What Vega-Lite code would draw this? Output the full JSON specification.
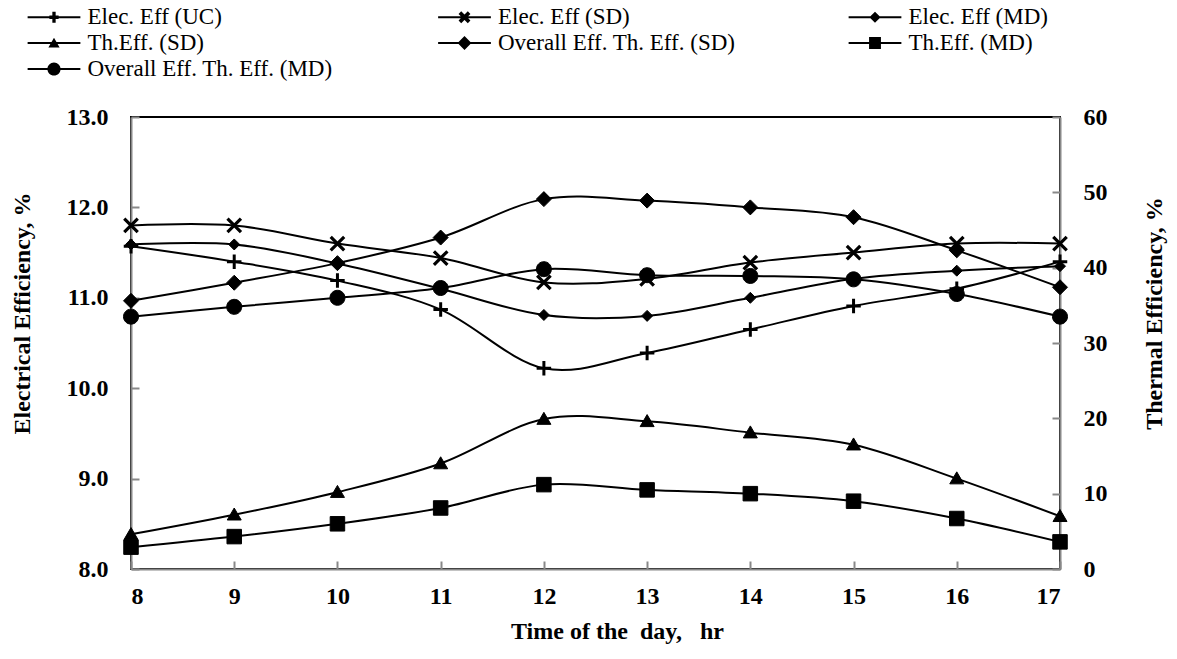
{
  "$schema": "https://vega.github.io/schema/vega-lite/v6.json",
  "width": 929,
  "height": 452,
  "autosize": {"type": "none"},
  "padding": {"left": 131, "top": 117, "right": 117, "bottom": 90},
  "background": "white",
  "config": {
    "font": "Liberation Serif",
    "view": {"stroke": "black", "strokeWidth": 2},
    "legend": {"labelFont": "Liberation Serif", "labelFontSize": 23, "labelColor": "black"},
    "axis": {
      "grid": false,
      "labelFont": "Liberation Serif",
      "labelFontWeight": "bold",
      "labelFontSize": 24,
      "labelColor": "black",
      "titleFont": "Liberation Serif",
      "titleFontWeight": "bold",
      "titleFontSize": 24,
      "titleColor": "black",
      "domainColor": "#888888",
      "domainWidth": 2,
      "tickColor": "#888888",
      "tickWidth": 2,
      "tickSize": -8
    }
  },
  "data": {"values": [
    {"h": 8, "s": "Elec. Eff (UC)", "ax": "L", "v": 11.57},
    {"h": 9, "s": "Elec. Eff (UC)", "ax": "L", "v": 11.40},
    {"h": 10, "s": "Elec. Eff (UC)", "ax": "L", "v": 11.19},
    {"h": 11, "s": "Elec. Eff (UC)", "ax": "L", "v": 10.87},
    {"h": 12, "s": "Elec. Eff (UC)", "ax": "L", "v": 10.22},
    {"h": 13, "s": "Elec. Eff (UC)", "ax": "L", "v": 10.39},
    {"h": 14, "s": "Elec. Eff (UC)", "ax": "L", "v": 10.65},
    {"h": 15, "s": "Elec. Eff (UC)", "ax": "L", "v": 10.91},
    {"h": 16, "s": "Elec. Eff (UC)", "ax": "L", "v": 11.10},
    {"h": 17, "s": "Elec. Eff (UC)", "ax": "L", "v": 11.40},
    {"h": 8, "s": "Elec. Eff (SD)", "ax": "L", "v": 11.80},
    {"h": 9, "s": "Elec. Eff (SD)", "ax": "L", "v": 11.80},
    {"h": 10, "s": "Elec. Eff (SD)", "ax": "L", "v": 11.60},
    {"h": 11, "s": "Elec. Eff (SD)", "ax": "L", "v": 11.44},
    {"h": 12, "s": "Elec. Eff (SD)", "ax": "L", "v": 11.17},
    {"h": 13, "s": "Elec. Eff (SD)", "ax": "L", "v": 11.21},
    {"h": 14, "s": "Elec. Eff (SD)", "ax": "L", "v": 11.39},
    {"h": 15, "s": "Elec. Eff (SD)", "ax": "L", "v": 11.50},
    {"h": 16, "s": "Elec. Eff (SD)", "ax": "L", "v": 11.60},
    {"h": 17, "s": "Elec. Eff (SD)", "ax": "L", "v": 11.60},
    {"h": 8, "s": "Elec. Eff (MD)", "ax": "L", "v": 11.59},
    {"h": 9, "s": "Elec. Eff (MD)", "ax": "L", "v": 11.59},
    {"h": 10, "s": "Elec. Eff (MD)", "ax": "L", "v": 11.38},
    {"h": 11, "s": "Elec. Eff (MD)", "ax": "L", "v": 11.10},
    {"h": 12, "s": "Elec. Eff (MD)", "ax": "L", "v": 10.81},
    {"h": 13, "s": "Elec. Eff (MD)", "ax": "L", "v": 10.80},
    {"h": 14, "s": "Elec. Eff (MD)", "ax": "L", "v": 11.00},
    {"h": 15, "s": "Elec. Eff (MD)", "ax": "L", "v": 11.21},
    {"h": 16, "s": "Elec. Eff (MD)", "ax": "L", "v": 11.30},
    {"h": 17, "s": "Elec. Eff (MD)", "ax": "L", "v": 11.35},
    {"h": 8, "s": "Th.Eff. (SD)", "ax": "R", "v": 4.6},
    {"h": 9, "s": "Th.Eff. (SD)", "ax": "R", "v": 7.2},
    {"h": 10, "s": "Th.Eff. (SD)", "ax": "R", "v": 10.2},
    {"h": 11, "s": "Th.Eff. (SD)", "ax": "R", "v": 14.0},
    {"h": 12, "s": "Th.Eff. (SD)", "ax": "R", "v": 19.9},
    {"h": 13, "s": "Th.Eff. (SD)", "ax": "R", "v": 19.6},
    {"h": 14, "s": "Th.Eff. (SD)", "ax": "R", "v": 18.1},
    {"h": 15, "s": "Th.Eff. (SD)", "ax": "R", "v": 16.5},
    {"h": 16, "s": "Th.Eff. (SD)", "ax": "R", "v": 12.0},
    {"h": 17, "s": "Th.Eff. (SD)", "ax": "R", "v": 7.0},
    {"h": 8, "s": "Overall Eff. Th. Eff. (SD)", "ax": "R", "v": 35.6},
    {"h": 9, "s": "Overall Eff. Th. Eff. (SD)", "ax": "R", "v": 38.0},
    {"h": 10, "s": "Overall Eff. Th. Eff. (SD)", "ax": "R", "v": 40.6},
    {"h": 11, "s": "Overall Eff. Th. Eff. (SD)", "ax": "R", "v": 44.0},
    {"h": 12, "s": "Overall Eff. Th. Eff. (SD)", "ax": "R", "v": 49.1},
    {"h": 13, "s": "Overall Eff. Th. Eff. (SD)", "ax": "R", "v": 48.9},
    {"h": 14, "s": "Overall Eff. Th. Eff. (SD)", "ax": "R", "v": 48.0},
    {"h": 15, "s": "Overall Eff. Th. Eff. (SD)", "ax": "R", "v": 46.7},
    {"h": 16, "s": "Overall Eff. Th. Eff. (SD)", "ax": "R", "v": 42.3},
    {"h": 17, "s": "Overall Eff. Th. Eff. (SD)", "ax": "R", "v": 37.4},
    {"h": 8, "s": "Th.Eff. (MD)", "ax": "R", "v": 2.9},
    {"h": 9, "s": "Th.Eff. (MD)", "ax": "R", "v": 4.3},
    {"h": 10, "s": "Th.Eff. (MD)", "ax": "R", "v": 6.0},
    {"h": 11, "s": "Th.Eff. (MD)", "ax": "R", "v": 8.1},
    {"h": 12, "s": "Th.Eff. (MD)", "ax": "R", "v": 11.2},
    {"h": 13, "s": "Th.Eff. (MD)", "ax": "R", "v": 10.5},
    {"h": 14, "s": "Th.Eff. (MD)", "ax": "R", "v": 10.0},
    {"h": 15, "s": "Th.Eff. (MD)", "ax": "R", "v": 9.0},
    {"h": 16, "s": "Th.Eff. (MD)", "ax": "R", "v": 6.7},
    {"h": 17, "s": "Th.Eff. (MD)", "ax": "R", "v": 3.6},
    {"h": 8, "s": "Overall Eff. Th. Eff. (MD)", "ax": "R", "v": 33.5},
    {"h": 9, "s": "Overall Eff. Th. Eff. (MD)", "ax": "R", "v": 34.8},
    {"h": 10, "s": "Overall Eff. Th. Eff. (MD)", "ax": "R", "v": 36.0},
    {"h": 11, "s": "Overall Eff. Th. Eff. (MD)", "ax": "R", "v": 37.3},
    {"h": 12, "s": "Overall Eff. Th. Eff. (MD)", "ax": "R", "v": 39.8},
    {"h": 13, "s": "Overall Eff. Th. Eff. (MD)", "ax": "R", "v": 39.0},
    {"h": 14, "s": "Overall Eff. Th. Eff. (MD)", "ax": "R", "v": 38.9},
    {"h": 15, "s": "Overall Eff. Th. Eff. (MD)", "ax": "R", "v": 38.45},
    {"h": 16, "s": "Overall Eff. Th. Eff. (MD)", "ax": "R", "v": 36.5},
    {"h": 17, "s": "Overall Eff. Th. Eff. (MD)", "ax": "R", "v": 33.5}
  ]},
  "encoding": {
    "x": {
      "field": "h", "type": "quantitative",
      "scale": {"domain": [8, 17], "nice": false, "zero": false},
      "axis": {
        "values": [8, 9, 10, 11, 12, 13, 14, 15, 16, 17],
        "labelPadding": 23,
        "title": "Time of the\u00a0 day,\u00a0\u00a0 hr",
        "titleX": 486,
        "titleY": 69,
        "titleBaseline": "alphabetic",
        "titleAlign": "center",
        "titleAnchor": null
      }
    }
  },
  "layer": [
    {
      "transform": [{"filter": {"field": "ax", "equal": "L"}}],
      "encoding": {
        "y": {
          "field": "v", "type": "quantitative",
          "scale": {"domain": [8, 13], "nice": false, "zero": false},
          "axis": {
            "orient": "left",
            "values": [8, 9, 10, 11, 12, 13],
            "format": ".1f",
            "labelPadding": 31,
            "title": "Electrical Efficiency, %",
            "titleAngle": 270,
            "titleX": -109,
            "titleY": 196,
            "titleAlign": "center",
            "titleBaseline": "middle",
            "titleAnchor": null
          }
        }
      },
      "layer": [
        {"mark": {"type": "line", "interpolate": "cardinal", "color": "black", "strokeWidth": 2}, "encoding": {"detail": {"field": "s", "type": "nominal"}}},
        {"transform": [{"filter": {"field": "s", "equal": "Elec. Eff (MD)"}}], "mark": {"type": "point", "shape": "M0,-1.1L1.1,0L0,1.1L-1.1,0Z", "size": 100, "filled": true, "fill": "black", "stroke": "black", "strokeWidth": 1, "opacity": 1}, "encoding": {}},
        {"transform": [{"filter": {"field": "s", "equal": "Elec. Eff (UC)"}}], "mark": {"type": "point", "shape": "M0,-1.45V1.45M-1.45,0H1.45", "size": 100, "filled": true, "fill": "black", "stroke": "black", "strokeWidth": 3, "opacity": 1}, "encoding": {}},
        {"transform": [{"filter": {"field": "s", "equal": "Elec. Eff (SD)"}}], "mark": {"type": "point", "shape": "M-1.35,-1.35L1.35,1.35M-1.35,1.35L1.35,-1.35", "size": 100, "filled": true, "fill": "black", "stroke": "black", "strokeWidth": 3.2, "opacity": 1}, "encoding": {}}
      ]
    },
    {
      "transform": [{"filter": {"field": "ax", "equal": "R"}}],
      "encoding": {
        "y": {
          "field": "v", "type": "quantitative",
          "scale": {"domain": [0, 60], "nice": false, "zero": false},
          "axis": {
            "orient": "right",
            "values": [0, 10, 20, 30, 40, 50, 60],
            "labelPadding": 31,
            "title": "Thermal Efficiency, %",
            "titleAngle": 270,
            "titleX": 94,
            "titleY": 196,
            "titleAlign": "center",
            "titleBaseline": "middle",
            "titleAnchor": null
          }
        }
      },
      "layer": [
        {"mark": {"type": "line", "interpolate": "cardinal", "color": "black", "strokeWidth": 2}, "encoding": {"detail": {"field": "s", "type": "nominal"}}},
        {"transform": [{"filter": {"field": "s", "equal": "Th.Eff. (SD)"}}], "mark": {"type": "point", "shape": "M0,-1.35L1.4,1.05L-1.4,1.05Z", "size": 100, "filled": true, "fill": "black", "stroke": "black", "strokeWidth": 1, "opacity": 1}, "encoding": {}},
        {"transform": [{"filter": {"field": "s", "equal": "Overall Eff. Th. Eff. (SD)"}}], "mark": {"type": "point", "shape": "M0,-1.5L1.5,0L0,1.5L-1.5,0Z", "size": 100, "filled": true, "fill": "black", "stroke": "black", "strokeWidth": 1, "opacity": 1}, "encoding": {}},
        {"transform": [{"filter": {"field": "s", "equal": "Th.Eff. (MD)"}}], "mark": {"type": "point", "shape": "M-1.45,-1.45H1.45V1.45H-1.45Z", "size": 100, "filled": true, "fill": "black", "stroke": "black", "strokeWidth": 1, "opacity": 1}, "encoding": {}},
        {"transform": [{"filter": {"field": "s", "equal": "Overall Eff. Th. Eff. (MD)"}}], "mark": {"type": "point", "shape": "M1.5,0A1.5,1.5,0,1,1,-1.5,0A1.5,1.5,0,1,1,1.5,0Z", "size": 100, "filled": true, "fill": "black", "stroke": "black", "strokeWidth": 1, "opacity": 1}, "encoding": {}}
      ]
    },
    {
      "mark": {"type": "point", "filled": true, "fill": "black", "stroke": "black", "strokeWidth": 2, "opacity": 0, "size": 174},
      "encoding": {
        "y": {"field": "v", "type": "quantitative", "axis": null},
        "shape": {
          "field": "s", "type": "nominal",
          "scale": {
            "domain": ["Elec. Eff (UC)", "Elec. Eff (SD)", "Elec. Eff (MD)", "Th.Eff. (SD)", "Overall Eff. Th. Eff. (SD)", "Th.Eff. (MD)", "Overall Eff. Th. Eff. (MD)"],
            "range": [
              "M-4,-0.15H4V0.15H-4ZM-0.25,-0.85H0.25V0.85H-0.25ZM-0.7,-0.25H0.7V0.25H-0.7Z",
              "M-4,-0.15H4V0.15H-4ZM-0.9,-0.5L-0.5,-0.9L0.9,0.5L0.5,0.9ZM0.5,-0.9L0.9,-0.5L-0.5,0.9L-0.9,0.5Z",
              "M-4,-0.15H4V0.15H-4ZM0,-0.85L0.85,0L0,0.85L-0.85,0Z",
              "M-4,-0.15H4V0.15H-4ZM0,-0.8L0.85,0.7L-0.85,0.7Z",
              "M-4,-0.15H4V0.15H-4ZM0,-1.05L1.05,0L0,1.05L-1.05,0Z",
              "M-4,-0.15H4V0.15H-4ZM-0.9,-0.9H0.9V0.9H-0.9Z",
              "M-4,-0.15H4V0.15H-4ZM1,0A1,1,0,1,1,-1,0A1,1,0,1,1,1,0Z"
            ]
          },
          "legend": {
            "title": null,
            "orient": "none",
            "legendX": -101,
            "legendY": -111.5,
            "direction": "horizontal",
            "columns": 3,
            "gridAlign": "all",
            "columnPadding": 104.5,
            "rowPadding": 2,
            "padding": 0,
            "symbolSize": 174,
            "symbolStrokeWidth": 0,
            "symbolFillColor": "black",
            "symbolOpacity": 1,
            "symbolOffset": 12.5,
            "labelOffset": 22,
            "labelFont": "Liberation Serif",
            "labelFontSize": 23,
            "labelColor": "black",
            "labelLimit": 0
          }
        }
      }
    }
  ],
  "resolve": {"scale": {"y": "independent"}}
}
